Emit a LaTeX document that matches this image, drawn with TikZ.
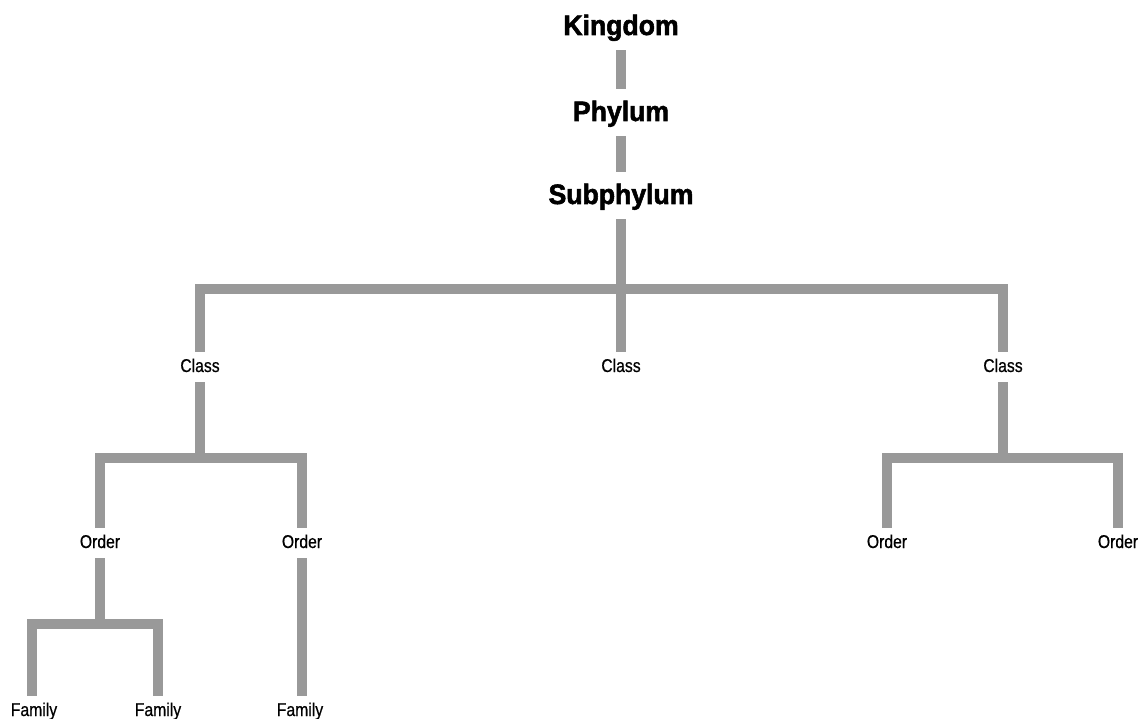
\documentclass[tikz,border=0pt]{standalone}
\usepackage{fontspec}
\setmainfont{Liberation Sans}[FakeStretch=0.85, FakeBold=0.6]
\newfontfamily\rankfont{Liberation Sans Bold}[FakeStretch=0.95, FakeBold=2]
\definecolor{branch}{HTML}{999999}
\begin{document}
\begin{tikzpicture}[x=1pt, y=-1pt,
  rank/.style={anchor=base, font=\rankfont\fontsize{28}{30}\selectfont,
    text height=20pt, text depth=3pt, inner xsep=0pt, inner ysep=12pt},
  taxon/.style={anchor=base, font=\fontsize{18.5}{20}\selectfont,
    text height=14pt, text depth=4pt, inner xsep=0pt, inner ysep=6pt},
  link/.style={draw=branch, line width=10pt, line cap=butt, line join=miter}]
\useasboundingbox (0,0) rectangle (1139,719);

% upper ranks
\node[rank] (kingdom) at (621,35) {Kingdom};
\node[rank] (phylum) at (621,121) {Phylum};
\node[rank] (subphylum) at (621,204) {Subphylum};

% classes
\node[taxon] (classA) at (200,372) {Class};
\node[taxon] (classB) at (621,372) {Class};
\node[taxon] (classC) at (1003,372) {Class};

% orders
\node[taxon] (orderA) at (100,548) {Order};
\node[taxon] (orderB) at (302,548) {Order};
\node[taxon] (orderC) at (887,548) {Order};
\node[taxon] (orderD) at (1118,548) {Order};

% families
\node[taxon] (familyA) at (34,716) {Family};
\node[taxon] (familyB) at (158,716) {Family};
\node[taxon] (familyC) at (300,716) {Family};

% branching points
\coordinate (forkS) at (621,289);
\coordinate (forkA) at (200,458);
\coordinate (forkC) at (1003,458);
\coordinate (forkO) at (100,624);

% connectors
\draw[link] (kingdom.south) -- (phylum.north);
\draw[link] (phylum.south) -- (subphylum.north);
\draw[link] (subphylum.south) -- (forkS);
\draw[link] (classA.north) |- (forkS) -| (classC.north);
\draw[link] (forkS) -- (classB.north);

\draw[link] (classA.south) -- (forkA);
\draw[link] (orderA.north) |- (forkA) -| (orderB.north);
\draw[link] (classC.south) -- (forkC);
\draw[link] (orderC.north) |- (forkC) -| (orderD.north);

\draw[link] (orderA.south) -- (forkO);
\draw[link] ([xshift=-2pt]familyA.north) |- (forkO) -| (familyB.north);
\draw[link] (orderB.south) -- (orderB.south |- familyC.north);
\end{tikzpicture}
\end{document}
